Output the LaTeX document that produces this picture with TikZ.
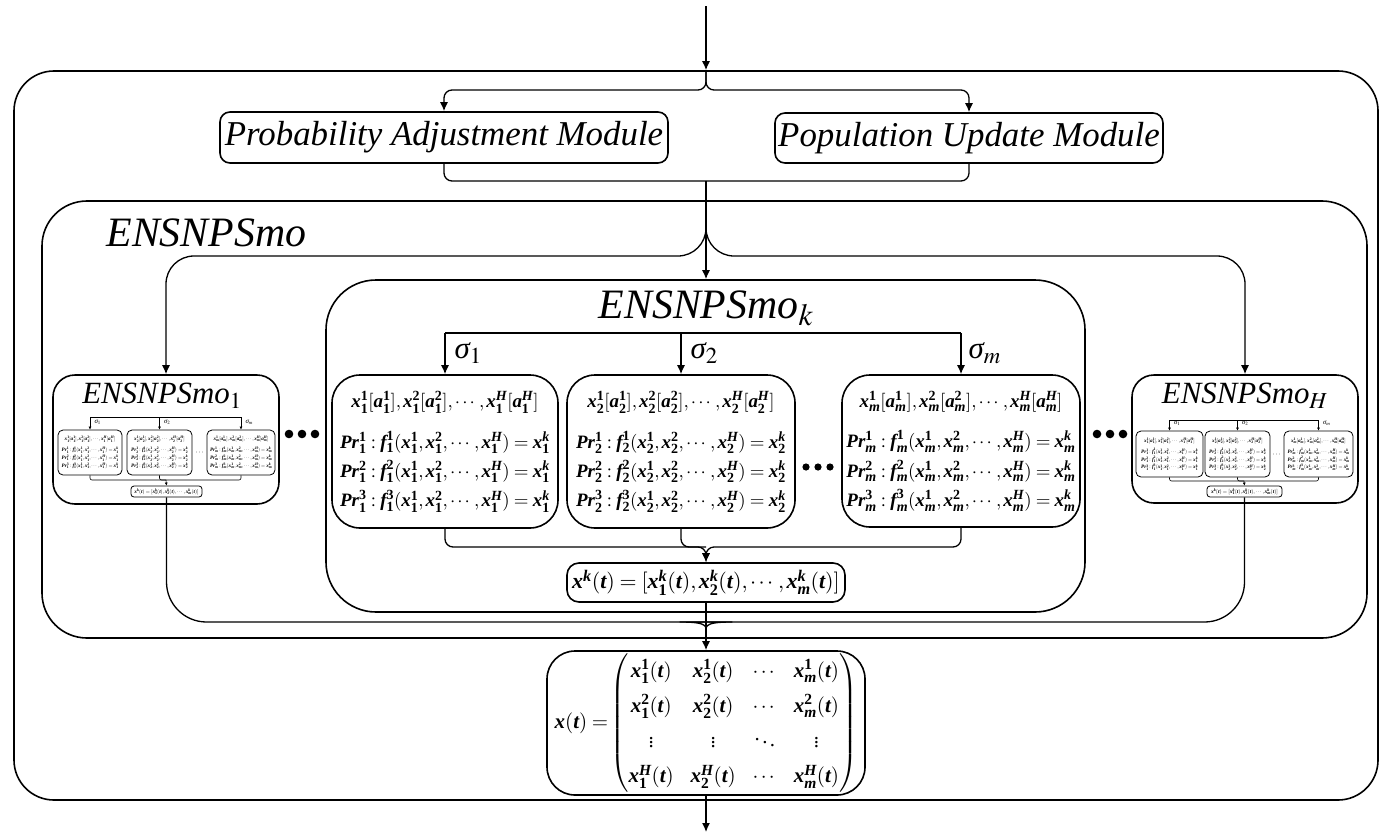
\documentclass[tikz,border=0pt]{standalone}
\usepackage{amsmath}
\usepackage{mathptmx}
\usepackage{fontspec}
\setmainfont{Liberation Serif}
\usetikzlibrary{arrows.meta,calc}
\newcommand\BI[1]{\text{\normalfont\bfseries\itshape #1}}
\newcommand\BR[1]{\text{\normalfont\bfseries #1}}
\newcommand\X[2]{\BI{x}_{#1}^{#2}}
\newcommand\SG[1]{$\text{\normalfont\itshape σ}_{#1}$}
\newcommand\neurbox[1]{{\fontsize{19}{29.5}\selectfont\boldmath
\begin{tabular}{@{}c@{}}
$\X{#1}{\BR{1}}[\BI{a}_{#1}^{\BR{1}}],\X{#1}{\BR{2}}[\BI{a}_{#1}^{\BR{2}}],\cdots,\X{#1}{\BI{H}}[\BI{a}_{#1}^{\BI{H}}]$\\[11pt]
$\BI{Pr}_{#1}^{\BR{1}}:\BI{f}_{#1}^{\BR{1}}(\X{#1}{\BR{1}},\X{#1}{\BR{2}},\cdots,\X{#1}{\BI{H}})=\X{#1}{\BI{k}}$\\
$\BI{Pr}_{#1}^{\BR{2}}:\BI{f}_{#1}^{\BR{2}}(\X{#1}{\BR{1}},\X{#1}{\BR{2}},\cdots,\X{#1}{\BI{H}})=\X{#1}{\BI{k}}$\\
$\BI{Pr}_{#1}^{\BR{3}}:\BI{f}_{#1}^{\BR{3}}(\X{#1}{\BR{1}},\X{#1}{\BR{2}},\cdots,\X{#1}{\BI{H}})=\X{#1}{\BI{k}}$
\end{tabular}}}
\newcommand\xkline{{\fontsize{22}{22}\selectfont\boldmath $\BI{x}^{\BI{k}}(\BI{t})=[\X{\BR{1}}{\BI{k}}(\BI{t}),\X{\BR{2}}{\BI{k}}(\BI{t}),\cdots,\X{\BI{m}}{\BI{k}}(\BI{t})]$}}
\begin{document}
\begin{tikzpicture}[x=1bp,y=-1bp, line join=round,
  box/.style={draw, line width=1.6bp, rounded corners=#1, inner sep=0pt},
  box/.default=10bp,
  conn/.style={line width=1.3bp},
  arr/.style={line width=1.3bp, -{Latex[length=9bp,width=8bp]}},
  mconn/.style={line width=0.6bp},
  marr/.style={line width=0.6bp, -{Latex[length=3bp,width=3bp]}},
  mbox/.style={draw, line width=0.8bp, rounded corners=5bp, inner sep=0pt},
  lbl/.style={font=\fontsize{35}{35}\selectfont\itshape},
  sublbl/.style={font=\fontsize{31}{31}\selectfont\itshape},
  biglbl/.style={font=\fontsize{42}{42}\selectfont\itshape},
  sig/.style={anchor=west, font=\fontsize{31}{31}\selectfont},
  msig/.style={anchor=west, font=\fontsize{7}{7}\selectfont},
]
\useasboundingbox (0,0) rectangle (1382,834);
% containers
\node[box=40bp, minimum width=1364bp, minimum height=729bp] (outer) at (696,435.5) {};
\node[box=10bp, minimum width=448bp, minimum height=51bp, lbl] (pam) at (444,137.5) {Probability Adjustment Module};
\node[box=10bp, minimum width=388bp, minimum height=50bp, lbl] (pum) at (969,138) {Population Update Module};
\node[box=45bp, minimum width=1325bp, minimum height=437bp] (ens) at (704.5,419.5) {};
\node[biglbl, anchor=west] (enslbl) at (103,233) {ENSNPSmo};
\node[box=50bp, minimum width=759bp, minimum height=332bp] (ensk) at (705.5,446) {};
\node[biglbl] (ensklbl) at (706,308) {ENSNPSmo$_{k}$};
% neurons
\node[box=28bp, minimum width=226bp, minimum height=153bp] (n1) at (445,451.5) {\neurbox{\BR{1}}};
\node[box=28bp, minimum width=228bp, minimum height=153bp] (n2) at (681,451.5) {\neurbox{\BR{2}}};
\node[box=28bp, minimum width=238bp, minimum height=152bp] (n3) at (961,451) {\neurbox{\BI{m}}};
\node[box=12bp, minimum width=278bp, minimum height=39bp] (xk) at (706,582.5) {\xkline};
\node[box=28bp, minimum width=318bp, minimum height=144bp] (xt) at (706,723) {{\fontsize{21}{29}\selectfont\boldmath\setlength\arraycolsep{8.5pt}\renewcommand\arraystretch{1.22}%
$\BI{x}(\BI{t})=\!\begin{pmatrix}
\X{\BR{1}}{\BR{1}}(\BI{t}) & \X{\BR{2}}{\BR{1}}(\BI{t}) & \cdots & \X{\BI{m}}{\BR{1}}(\BI{t})\\
\X{\BR{1}}{\BR{2}}(\BI{t}) & \X{\BR{2}}{\BR{2}}(\BI{t}) & \cdots & \X{\BI{m}}{\BR{2}}(\BI{t})\\
\vdots & \vdots & \ddots & \vdots\\
\X{\BR{1}}{\BI{H}}(\BI{t}) & \X{\BR{2}}{\BI{H}}(\BI{t}) & \cdots & \X{\BI{m}}{\BI{H}}(\BI{t})
\end{pmatrix}$}};
\node[sig] (s1) at ($(n1.north)+(6,-21)$) {\SG{1}};
\node[sig] (s2) at ($(n2.north)+(6,-21)$) {\SG{2}};
\node[sig] (s3) at ($(n3.north)+(4,-21)$) {\SG{m}};
% ENSNPSmo_1
\node[box=22bp, minimum width=226bp, minimum height=129bp] (ens1) at (166,439.5) {};
\node[sublbl] (ens1lbl) at (162,396) {ENSNPSmo$_1$};
\node[mbox, minimum width=64bp, minimum height=45bp] (a1) at (90,452.5) {\scalebox{0.27}{\neurbox{\BR{1}}}};
\node[mbox, minimum width=65bp, minimum height=45bp] (a2) at (159.5,452.5) {\scalebox{0.27}{\neurbox{\BR{2}}}};
\node[mbox, minimum width=68bp, minimum height=45bp] (a3) at (241,452.5) {\scalebox{0.27}{\neurbox{\BI{m}}}};
\node (adots) at (200,453) {\fontsize{8}{8}\selectfont$\cdots$};
\node[mbox, rounded corners=3bp, minimum width=71bp, minimum height=11bp] (ao) at (166.5,491.5) {\scalebox{0.24}{\xkline}};
\coordinate (abar) at (166,417);
\coordinate (amg) at (166,480);
\draw[mconn] (abar -| a1.north) -- (abar -| a3.north);
\foreach \b in {a1,a2,a3} \draw[marr] (abar -| \b.north) -- (\b.north);
\node[msig] (as1) at ($(a1.north)+(1,-7)$) {\SG{1}};
\node[msig] (as2) at ($(a2.north)+(1,-7)$) {\SG{2}};
\node[msig] (as3) at ($(a3.north)+(1,-7)$) {\SG{m}};
\draw[mconn, rounded corners=2bp] (a1.south) |- (amg) -| (a3.south);
\draw[mconn, rounded corners=2bp] (a2.south) |- (amg);
\draw[marr] (amg) -- (ao.north);
% ENSNPSmo_H
\node[box=22bp, minimum width=226bp, minimum height=128bp] (ensH) at (1245,439) {};
\node[sublbl] (ensHlbl) at (1245,396) {ENSNPSmo$_H$};
\node[mbox, minimum width=67bp, minimum height=46bp] (b1) at (1169.5,454) {\scalebox{0.27}{\neurbox{\BR{1}}}};
\node[mbox, minimum width=65bp, minimum height=46bp] (b2) at (1237.5,454) {\scalebox{0.27}{\neurbox{\BR{2}}}};
\node[mbox, minimum width=69bp, minimum height=46bp] (b3) at (1318.5,454) {\scalebox{0.27}{\neurbox{\BI{m}}}};
\node (bdots) at (1277,455) {\fontsize{8}{8}\selectfont$\cdots$};
\node[mbox, rounded corners=3bp, minimum width=75bp, minimum height=11bp] (bo) at (1244.5,491.5) {\scalebox{0.25}{\xkline}};
\coordinate (bbar) at (1244,420);
\coordinate (bmg) at (1244,481);
\draw[mconn] (bbar -| b1.north) -- (bbar -| b3.north);
\foreach \b in {b1,b2,b3} \draw[marr] (bbar -| \b.north) -- (\b.north);
\node[msig] (bs1) at ($(b1.north)+(1,-7)$) {\SG{1}};
\node[msig] (bs2) at ($(b2.north)+(1,-7)$) {\SG{2}};
\node[msig] (bs3) at ($(b3.north)+(1,-7)$) {\SG{m}};
\draw[mconn, rounded corners=2bp] (b1.south) |- (bmg) -| (b3.south);
\draw[mconn, rounded corners=2bp] (b2.south) |- (bmg);
\draw[marr] (bmg) -- (bo.north);
% dots
\foreach \x in {289,302,315} \fill (\x,434) circle (4.3bp);
\foreach \x in {1097,1110,1123} \fill (\x,434) circle (4.3bp);
\foreach \x in {806,818,830} \fill (\x,467) circle (3.6bp);
% connectors
\coordinate (in) at (706,6);
\coordinate (sp1) at (706,90);
\coordinate (mg1) at (706,181);
\coordinate (sp2) at (706,256);
\coordinate (bar) at (681,333);
\coordinate (mg2) at (706,547);
\coordinate (mg3) at (706,622);
\coordinate (out) at (706,832);
\draw[arr] (in) -- (in |- outer.north);
\draw[arr, rounded corners=8bp] (in |- outer.north) -- (sp1) -| (pam.north);
\draw[arr, rounded corners=8bp] (in |- outer.north) -- (sp1) -| (pum.north);
\draw[conn, rounded corners=8bp] (pam.south) |- (mg1) -| (pum.south);
\draw[arr] (mg1) -- (mg1 |- ensk.north);
\draw[arr, rounded corners=28bp] (mg1) -- (sp2) -| (ens1.north);
\draw[arr, rounded corners=28bp] (mg1) -- (sp2) -| (ensH.north);
\draw[conn] (bar -| n1.north) -- (bar -| n3.north);
\foreach \b in {n1,n2,n3} \draw[arr] (bar -| \b.north) -- (\b.north);
\draw[arr, rounded corners=8bp] (n1.south) |- (mg2) -- (xk.north);
\draw[arr, rounded corners=8bp] (n3.south) |- (mg2) -- (xk.north);
\draw[conn, rounded corners=8bp] (n2.south) |- (mg2);
\draw[arr] (xk.south) -- (xt.north);
\draw[conn, rounded corners=40bp] (ao.south) |- ($(mg3)+(-14,0)$) .. controls ($(mg3)+(-5,0)$) and ($(mg3)+(0,5)$) .. ($(mg3)+(0,14)$);
\draw[conn, rounded corners=40bp] (bo.south) |- ($(mg3)+(14,0)$) .. controls ($(mg3)+(5,0)$) and ($(mg3)+(0,5)$) .. ($(mg3)+(0,14)$);
\draw[arr] (xt.south) -- (out);
\end{tikzpicture}
\end{document}
